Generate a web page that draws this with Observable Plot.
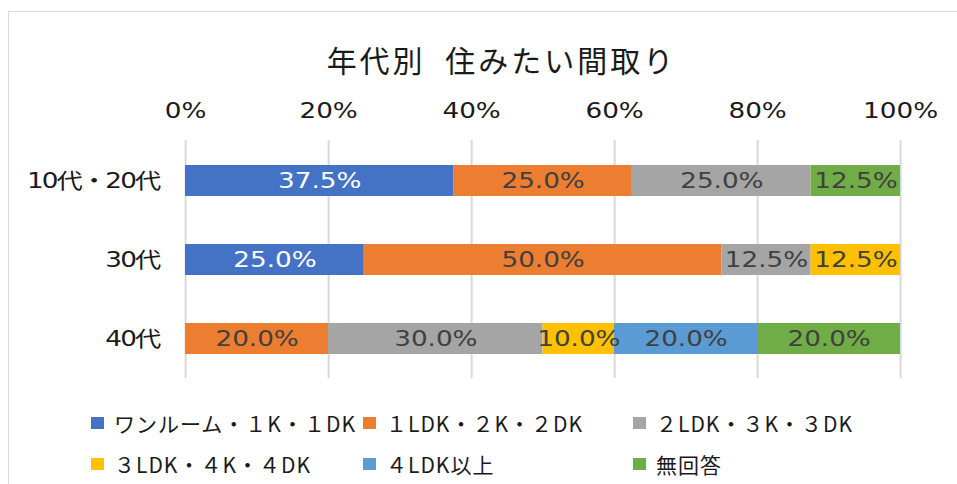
<!DOCTYPE html>
<html>
<head>
<meta charset="utf-8">
<script src="https://cdn.jsdelivr.net/npm/d3@7"></script>
<script src="https://cdn.jsdelivr.net/npm/@observablehq/plot@0.6"></script>
<style>
  html, body { margin: 0; padding: 0; background: #fff; }
  #wrap { position: relative; width: 957px; height: 484px; overflow: hidden; background: #fff; }
  #frame { position: absolute; left: 8px; top: 11px; width: 1000px; height: 600px; border: 1.5px solid #d9d9d9; box-sizing: border-box; }
  #title { position: absolute; top: 43px; left: 0; width: 1003px; text-align: center; font-family: "Noto Sans CJK JP", sans-serif; font-size: 30px; line-height: 32px; letter-spacing: 3px; word-spacing: 10px; color: #1a1a1a; white-space: nowrap; }
  #chart { position: absolute; left: 0; top: 0; transform: scaleX(1.25); transform-origin: 0 0; }
  #chart g[aria-label="y-axis tick label"] text { letter-spacing: -1.5px; }
  .lg { position: absolute; display: flex; align-items: center; height: 24px; font-family: "Noto Sans CJK JP", sans-serif; font-size: 21px; letter-spacing: 1px; color: #1a1a1a; white-space: nowrap; }
  .sw { display: inline-block; width: 13px; height: 12px; margin-right: 10px; }
</style>
</head>
<body>
<div id="wrap">
  <div id="frame"></div>
  <div id="title">年代別 住みたい間取り</div>
  <div id="chart"></div>
</div>
<script>
// ---- data ----
const ages = ["10代・20代", "30代", "40代"];
const series = ["ワンルーム・１K・１DK", "１LDK・２K・２DK", "２LDK・３K・３DK", "３LDK・４K・４DK", "４LDK以上", "無回答"];
const colors = ["#4472C4", "#ED7D31", "#A5A5A5", "#FFC000", "#5B9BD5", "#70AD47"];
const valuesByAge = {
  "10代・20代": [37.5, 25.0, 25.0, 0, 0, 12.5],
  "30代":       [25.0, 50.0, 12.5, 12.5, 0, 0],
  "40代":       [0, 20.0, 30.0, 10.0, 20.0, 20.0]
};
const xTicks = [0, 20, 40, 60, 80, 100];

const rows = [];
for (const age of ages) {
  series.forEach((s, i) => {
    const v = valuesByAge[age][i];
    if (v > 0) rows.push({age, series: s, value: v});
  });
}

const font = '"DejaVu Sans", "Noto Sans CJK JP", sans-serif';

const plot = Plot.plot({
  width: 766,
  height: 400,
  marginTop: 140,
  marginBottom: 22,
  marginLeft: 148,
  marginRight: 46,
  style: {fontFamily: font, background: "transparent", overflow: "visible"},
  x: {domain: [0, 100]},
  y: {domain: ages, paddingInner: 0.61, paddingOuter: 0.305},
  color: {domain: series, range: colors},
  marks: [
    Plot.ruleX(xTicks, {stroke: "#d9d9d9", strokeWidth: 1.6}),
    Plot.barX(rows, Plot.stackX({x: "value", y: "age", fill: "series", z: "series"})),
    Plot.text(rows, Plot.stackX({
      x: "value", y: "age", z: "series",
      text: d => d.value.toFixed(1) + "%",
      fill: d => d.series === series[0] ? "#ffffff" : "#404040",
      fontSize: 21
    })),
    Plot.axisX({anchor: "top", ticks: xTicks, tickFormat: d => d + "%", tickSize: 0, tickPadding: 23, fontSize: 21, fill: "#1a1a1a", label: null}),
    Plot.axisY({tickSize: 0, tickPadding: 21, fontSize: 21, fill: "#1a1a1a", label: null})
  ]
});
document.getElementById("chart").appendChild(plot);

// ---- legend (HTML, built from the series/colors arrays) ----
const cols = [91, 363, 633];
const rowsY = [423, 464];
const wrap = document.getElementById("wrap");
series.forEach((s, i) => {
  const item = document.createElement("div");
  item.className = "lg";
  item.style.left = cols[i % 3] + "px";
  item.style.top = (rowsY[Math.floor(i / 3)] - 12) + "px";
  const sw = document.createElement("span");
  sw.className = "sw";
  sw.style.background = colors[i];
  const tx = document.createElement("span");
  tx.textContent = s;
  item.appendChild(sw);
  item.appendChild(tx);
  wrap.appendChild(item);
});
</script>
</body>
</html>
